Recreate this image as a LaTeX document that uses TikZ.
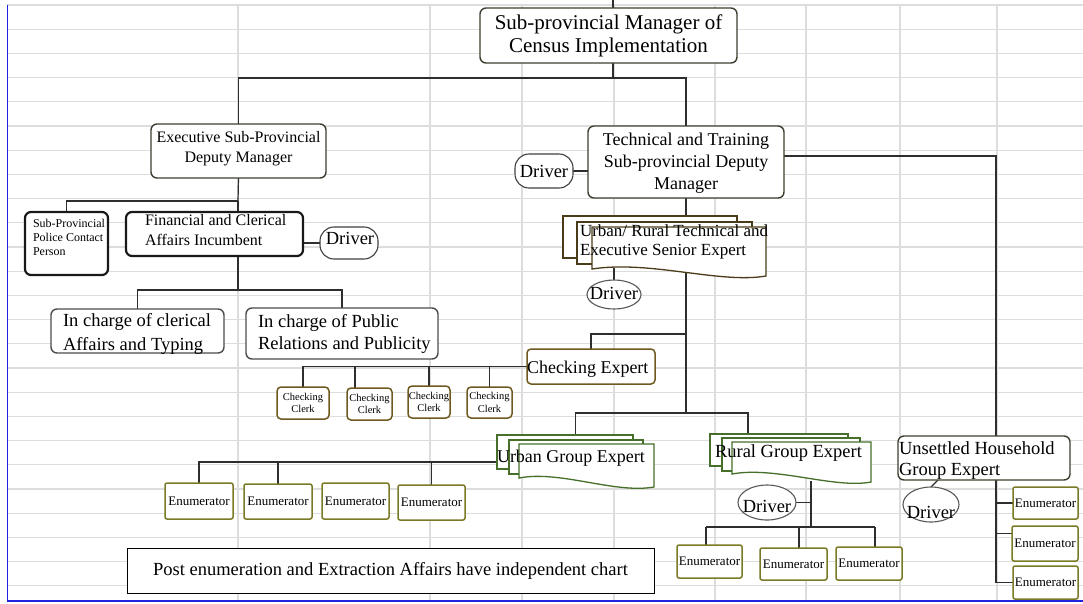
\documentclass[tikz,border=0pt]{standalone}
\usepackage{fontspec}
\setmainfont{Liberation Serif}
\usetikzlibrary{shapes.geometric,calc}
\definecolor{gridc}{HTML}{DDDDDD}
\definecolor{bxc}{HTML}{3C3F30}
\definecolor{lnc}{HTML}{2E2E2E}
\definecolor{chkc}{HTML}{6E5A20}
\definecolor{enc}{HTML}{7A7A26}
\definecolor{grc}{HTML}{46702A}
\definecolor{snc}{HTML}{4A3C18}
\definecolor{bluec}{HTML}{2222E0}
\newcommand\fsz[2]{\fontsize{#1}{#2}\selectfont}
\newcommand\mkbox[7]{\node[#6,minimum width={(#4)-(#2)},minimum height={(#5)-(#3)}] (#1) at ({((#2)+(#4))/2},{((#3)+(#5))/2}) {#7};}
\pgfdeclarelayer{gridl}
\pgfdeclarelayer{bg}
\pgfsetlayers{gridl,bg,main}
\begin{document}
\begin{tikzpicture}[x=1pt,y=-1pt,
  bx/.style={draw=bxc,line width=1.4pt,rounded corners=6pt,fill=white,inner sep=0pt,outer sep=0pt},
  gbx/.style={bx,draw=black!70},
  thk/.style={bx,draw=black!90,line width=2.2pt},
  chk/.style={bx,draw=chkc,line width=1.5pt,rounded corners=4pt,font=\fsz{10.5}{12.5},align=center},
  enb/.style={bx,draw=enc,line width=1.5pt,rounded corners=2pt,font=\fsz{13}{15}},
  drv/.style={ellipse,draw=black!65,line width=1.1pt,fill=white,inner sep=0pt,outer sep=0pt},
  drr/.style={bx,draw=black!75,line width=1.1pt,rounded corners=14pt},
  note/.style={draw=black,line width=1pt,fill=white,inner sep=0pt,outer sep=0pt,font=\fsz{18.5}{22}},
  ghost/.style={inner sep=0pt,outer sep=0pt},
  page/.style={fill=white,line width=1.3pt},
  ln/.style={draw=lnc,line width=1.2pt},
  tx/.style={inner sep=0pt,outer sep=0pt,text=black},
]
\useasboundingbox (0,0) rectangle (1083,603);
\begin{pgfonlayer}{gridl}
\fill[white] (0,0) rectangle (1083,603);
\foreach \gy in {5,29.2,...,590} \draw[gridc,line width=1.3pt] (7,\gy) -- (1083,\gy);
\foreach \gx in {238,430,522,614,715,806,900,997} \draw[gridc,line width=1.3pt] (\gx,5) -- (\gx,600);
\draw[bluec,line width=1.8pt] (7.5,5) -- (7.5,601) -- (1083,601);
\end{pgfonlayer}

% ---------- boxes ----------
\mkbox{top}{480}{8}{737}{63}{bx}{}
\node[tx,align=center,anchor=base,font=\fsz{21}{23}] (topt) at (608.5,52) {Sub-provincial Manager of\\Census Implementation};

\mkbox{exec}{151}{124}{326}{178}{bx}{}
\node[tx,align=center,anchor=base,font=\fsz{16}{20}] (exect) at (238.5,162) {Executive Sub-Provincial\\Deputy Manager};

\mkbox{tech}{588}{126}{784}{198}{bx}{}
\node[tx,align=center,anchor=base,font=\fsz{18}{22}] (techt) at (686,189) {Technical and Training\\Sub-provincial Deputy\\Manager};

\mkbox{tdrv}{515}{154}{573}{188}{drr}{}
\node[tx,anchor=base,font=\fsz{18.5}{20}] (tdrvt) at (544,177) {Driver};

\mkbox{pol}{25}{212}{108}{275}{thk}{}
\node[tx,align=left,anchor=base west,font=\fsz{12}{14}] (polt) at (33,255) {Sub-Provincial\\Police Contact\\Person};

\mkbox{fin}{126}{212}{303}{256}{thk}{}
\node[tx,align=left,anchor=base west,font=\fsz{16}{20}] (fint) at (145,245) {Financial and Clerical\\Affairs Incumbent};

\mkbox{fdrv}{320}{227}{378}{259}{drr}{}
\node[tx,anchor=base,font=\fsz{18.5}{20}] (fdrvt) at (350,244) {Driver};

\mkbox{cler}{51}{309}{224}{353}{gbx}{}
\node[tx,align=left,anchor=base west,font=\fsz{18.5}{24.5}] (clert) at (63,350.5) {In charge of clerical\\Affairs and Typing};

\mkbox{pub}{246}{308}{438}{359}{gbx}{}
\node[tx,align=left,anchor=base west,font=\fsz{18.5}{22.5}] (pubt) at (258,349.5) {In charge of Public\\Relations and Publicity};

% senior expert (multi-document)
\node[ghost,minimum width=203,minimum height=62] (sen) at (664.5,247) {};
\filldraw[page,draw=snc] (563,216) rectangle (737,258);
\filldraw[page,draw=snc] (577,222) rectangle (752,264);
\filldraw[page,draw=snc] (592,227) -- (766,227) -- (766,276) .. controls (720,284) and (650,260) .. (592,269) -- cycle;
\node[tx,align=left,anchor=base west,font=\fsz{17}{19}] (sent) at (580,255) {Urban/ Rural Technical and\\Executive Senior Expert};

\mkbox{sdrv}{587}{280}{641}{309}{drv}{}
\node[tx,anchor=base,font=\fsz{18.5}{20}] (sdrvt) at (614,299) {Driver};

\mkbox{chk}{527}{349}{655}{384}{chk}{}
\node[tx,anchor=base west,font=\fsz{18}{20}] (chkt) at (527,373) {Checking Expert};

\mkbox{clk1}{277}{387}{329}{419}{chk}{Checking\\Clerk}
\mkbox{clk2}{347}{388}{392}{420}{chk}{Checking\\Clerk}
\mkbox{clk3}{408}{386}{450}{418}{chk}{Checking\\Clerk}
\mkbox{clk4}{467}{387}{512}{418}{chk}{Checking\\Clerk}

% urban group expert
\node[ghost,minimum width=157,minimum height=54] (urb) at (575.5,462) {};
\filldraw[page,draw=grc] (497,435) rectangle (633,469);
\filldraw[page,draw=grc] (509,440) rectangle (643,474);
\filldraw[page,draw=grc] (519,444) -- (654,444) -- (654,487) .. controls (615,494) and (560,470) .. (519,478) -- cycle;
\node[tx,anchor=base west,font=\fsz{18}{20}] (urbt) at (497,462) {Urban Group Expert};

\mkbox{ue1}{165}{483}{233}{519}{enb}{Enumerator}
\mkbox{ue2}{244}{484}{312}{519}{enb}{Enumerator}
\mkbox{ue3}{322}{483}{389}{519}{enb}{Enumerator}
\mkbox{ue4}{398}{485}{465}{520}{enb}{Enumerator}

% rural group expert
\node[ghost,minimum width=161,minimum height=48] (rur) at (790.5,458) {};
\filldraw[page,draw=grc] (710,434) rectangle (848,466);
\filldraw[page,draw=grc] (722,438) rectangle (860,471);
\filldraw[page,draw=grc] (732,442) -- (871,442) -- (871,482) .. controls (835,489) and (775,466) .. (732,474) -- cycle;
\node[tx,anchor=base west,font=\fsz{18.5}{20}] (rurt) at (715,457) {Rural Group Expert};

\mkbox{rdrv}{738}{485}{796}{520}{drv}{}
\node[tx,anchor=base,font=\fsz{18.5}{20}] (rdrvt) at (767,512) {Driver};

\mkbox{re1}{677}{545}{742}{578}{enb}{Enumerator}
\mkbox{re2}{760}{548}{827}{580}{enb}{Enumerator}
\mkbox{re3}{836}{547}{902}{580}{enb}{Enumerator}

% unsettled household
\mkbox{uns}{898}{436}{1070}{480}{bx}{}
\node[tx,align=left,anchor=base west,font=\fsz{18.5}{21}] (unst) at (899,475) {Unsettled Household\\Group Expert};

\mkbox{udrv}{903}{487}{959}{522}{drv}{}
\node[tx,anchor=base,font=\fsz{18.5}{20}] (udrvt) at (931,518) {Driver};

\mkbox{ur1}{1013}{487}{1078}{519}{enb}{Enumerator}
\mkbox{ur2}{1012}{526}{1078}{561}{enb}{Enumerator}
\mkbox{ur3}{1013}{566}{1078}{599}{enb}{Enumerator}

\mkbox{note}{127}{548}{654}{593}{note}{Post enumeration and Extraction Affairs have independent chart}

% ---------- connectors ----------
\coordinate (stub) at (613,0);
\coordinate (b1) at (613,78);
\coordinate (b2) at (238,201);
\coordinate (b3) at (238,290);
\coordinate (b4) at (996,156);
\coordinate (b5) at (614,268);
\coordinate (b6) at (686,273);
\coordinate (b7) at (686,334);
\coordinate (b8) at (686,413);
\coordinate (b9) at (355,366.5);
\coordinate (b10) at (748,413);
\coordinate (b11) at (497,462);
\coordinate (b12) at (811,481);
\coordinate (b13) at (811,527);
\coordinate (b14) at (706,527);
\coordinate (b15) at (875,527);
\coordinate (b16) at (799,527);
\coordinate (b17) at (938,480);
\begin{pgfonlayer}{bg}
\draw[ln] (stub) -- (stub |- top.north);
\draw[ln] (top.south -| b1) -- (b1);
\draw[ln] (exec.north) |- (b1) -| (tech.north);
\draw[ln] (exec.south) -- (b2);
\draw[ln] (b2) -| (pol.north);
\draw[ln] (b2) -- (b2 |- fin.north);
\draw[ln] (fdrv.west) -- (fdrv.west -| fin.east);
\draw[ln] (b3 |- fin.south) -- (b3);
\draw[ln] (cler.north) |- (b3) -| (pub.north);
\draw[ln] (tdrv.east) -- (tdrv.east -| tech.west);
\draw[ln] (b4 -| tech.east) -- (b4) -- (b4 |- uns.north);
\draw[ln] (tech.south) -- (tech.south |- sen.north);
\draw[ln] (b5) -- (sdrv.north);
\draw[ln] (b6) -- (b8);
\draw[ln] (b7) -| (chk.north);
\draw[ln] (chk.west) -| (clk1.north);
\draw[ln] (b9) -- (b9 |- clk2.north);
\draw[ln] (chk.west -| clk3.north) -- (clk3.north);
\draw[ln] (chk.west -| clk4.north) -- (clk4.north);
\draw[ln] (urb.north) |- (b10) -- (b10 |- rur.north);
\draw[ln] (ue1.north) |- (b11);
\draw[ln] (ue2.north |- b11) -- (ue2.north);
\draw[ln] (ue4.north |- b11) -- (ue4.north);
\draw[ln] (b12) -- (b13);
\draw[ln] (rdrv.east) -- (rdrv.east -| b12);
\draw[ln] (b14) -- (b15);
\draw[ln] (b14) -- (b14 |- re1.north);
\draw[ln] (b16) -- (b16 |- re2.north);
\draw[ln] (b15) -- (b15 |- re3.north);
\draw[ln] (b17) -- (udrv.north);
\draw[ln] (b4 |- uns.south) -- (b4 |- ur3.west) -- (ur3.west);
\draw[ln] (b4 |- ur1.west) -- (ur1.west);
\draw[ln] ($(b4 |- ur2.west)+(0,-10)$) -- ($(ur2.west)+(0,-10)$);
\end{pgfonlayer}
\end{tikzpicture}
\end{document}
